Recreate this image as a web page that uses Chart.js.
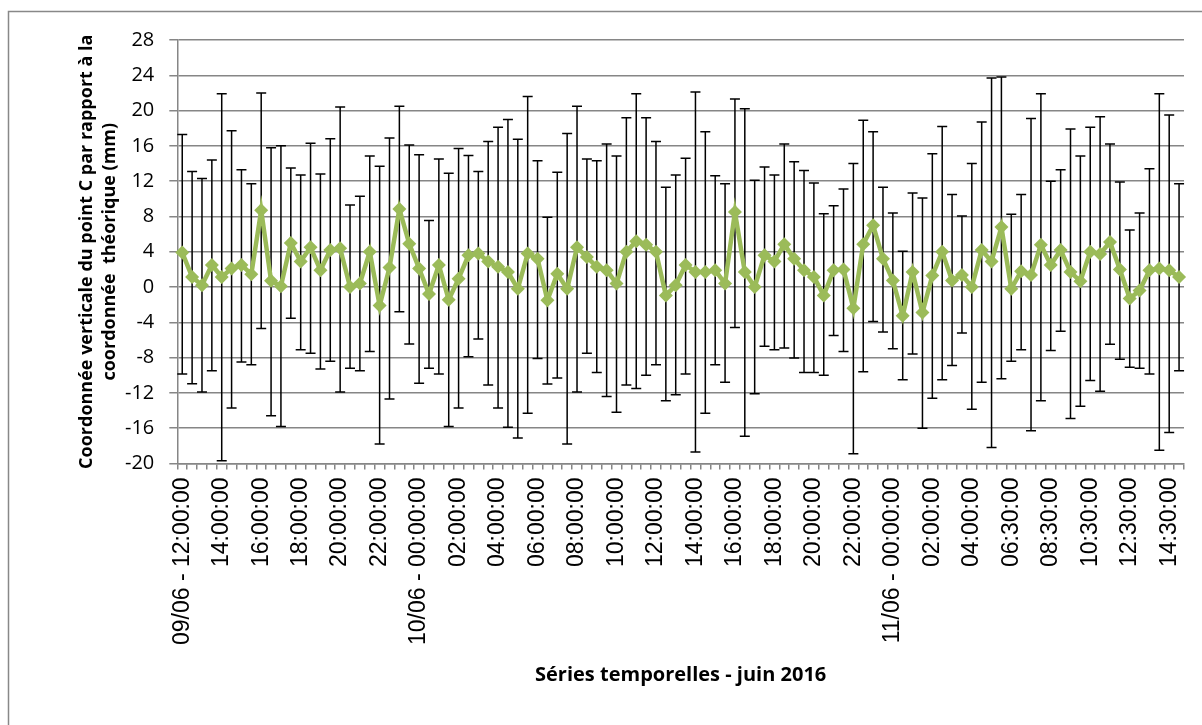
<!DOCTYPE html>
<html>
<head>
<meta charset="utf-8">
<script src="https://cdn.jsdelivr.net/npm/chart.js@4"></script>
<style>
  body { margin: 0; background: #fff; }
  canvas { display: block; }
</style>
</head>
<body>
<canvas id="chart" width="1202" height="725"></canvas>
<script>
// one tick label every 4 measurements (30 min steps)
const tickLabels = ['09/06 - 12:00:00', '14:00:00', '16:00:00', '18:00:00', '20:00:00', '22:00:00',
    '10/06 - 00:00:00', '02:00:00', '04:00:00', '06:00:00', '08:00:00', '10:00:00', '12:00:00',
    '14:00:00', '16:00:00', '18:00:00', '20:00:00', '22:00:00',
    '11/06 - 00:00:00', '02:00:00', '04:00:00', '06:30:00', '08:30:00', '10:30:00', '12:30:00', '14:30:00'];

const yTitle = ['Coordonnée verticale du point C par rapport à la', 'coordonnée  théorique (mm)'];

const values = [3.9, 1.15, 0.2, 2.5, 1.15, 2.1, 2.5, 1.45, 8.7, 0.7,
    0.1, 5.0, 2.9, 4.5, 1.9, 4.2, 4.4, 0.0, 0.4, 4.0,
    -2.1, 2.2, 8.85, 4.9, 2.1, -0.8, 2.5, -1.45, 0.95, 3.6,
    3.8, 2.9, 2.3, 1.7, -0.2, 3.8, 3.2, -1.5, 1.5, -0.2,
    4.5, 3.4, 2.3, 1.9, 0.4, 4.0, 5.2, 4.8, 4.0, -0.95,
    0.2, 2.5, 1.7, 1.7, 1.9, 0.4, 8.5, 1.7, 0.0, 3.6,
    2.9, 4.85, 3.2, 1.9, 1.15, -0.95, 1.9, 2.0, -2.4, 4.85,
    7.0, 3.2, 0.75, -3.25, 1.7, -2.9, 1.3, 4.0, 0.75, 1.35,
    0.0, 4.2, 2.9, 6.8, -0.2, 1.8, 1.35, 4.8, 2.5, 4.2,
    1.7, 0.65, 4.0, 3.75, 5.1, 2.0, -1.3, -0.4, 1.9, 2.1,
    1.9, 1.15];

const upper = [17.3, 13.1, 12.3, 14.4, 21.9, 17.7, 13.3, 11.7, 22.0, 15.8,
    16.0, 13.5, 12.7, 16.3, 12.8, 16.8, 20.4, 9.3, 10.3, 14.85,
    13.7, 16.9, 20.5, 16.1, 15.0, 7.55, 14.5, 12.9, 15.7, 14.9,
    13.1, 16.5, 18.1, 19.0, 16.75, 21.6, 14.3, 7.9, 13.0, 17.4,
    20.5, 14.5, 14.3, 16.2, 14.85, 19.2, 21.9, 19.2, 16.5, 11.3,
    12.7, 14.6, 22.1, 17.6, 12.6, 11.7, 21.3, 20.2, 12.1, 13.6,
    12.7, 16.2, 14.2, 13.2, 11.8, 8.3, 9.2, 11.1, 14.0, 18.9,
    17.6, 11.3, 8.4, 4.05, 10.65, 10.1, 15.1, 18.2, 10.5, 8.05,
    14.0, 18.7, 23.7, 23.8, 8.25, 10.5, 19.1, 21.9, 12.0, 13.3,
    17.9, 14.85, 18.1, 19.3, 16.2, 11.9, 6.45, 8.4, 13.4, 21.9,
    19.5, 11.7];

const lower = [-9.85, -10.95, -11.9, -9.5, -19.7, -13.7, -8.5, -8.8, -4.7, -14.6,
    -15.8, -3.55, -7.1, -7.5, -9.3, -8.4, -11.9, -9.2, -9.5, -7.3,
    -17.8, -12.7, -2.8, -6.45, -10.9, -9.2, -9.85, -15.8, -13.7, -7.9,
    -5.9, -11.1, -13.7, -15.9, -17.1, -14.3, -8.1, -11.0, -10.3, -17.8,
    -11.9, -7.5, -9.7, -12.4, -14.2, -11.1, -11.5, -10.0, -8.8, -12.9,
    -12.2, -9.85, -18.7, -14.3, -8.8, -10.8, -4.6, -16.9, -12.1, -6.7,
    -7.1, -6.9, -8.05, -9.7, -9.7, -10.0, -5.5, -7.3, -18.9, -9.6,
    -3.9, -5.1, -7.0, -10.5, -7.6, -16.0, -12.6, -10.5, -8.9, -5.2,
    -13.85, -10.8, -18.2, -10.4, -8.4, -7.1, -16.3, -12.9, -7.2, -5.0,
    -14.9, -13.5, -10.6, -11.8, -6.5, -8.2, -9.1, -9.2, -9.85, -18.5,
    -16.5, -9.5];

const categories = values.map((_, i) => (i % 4 === 0 ? tickLabels[i / 4] : ''));

const errorBars = {
    id: 'errorBars',
    beforeDatasetsDraw(chart) {
        const {ctx, scales: {x, y}} = chart;
        ctx.save();
        ctx.strokeStyle = '#000';
        ctx.lineWidth = 1.5;
        for (let i = 0; i < values.length; i++) {
            const px = x.getPixelForValue(i);
            const top = y.getPixelForValue(upper[i]);
            const bot = y.getPixelForValue(lower[i]);
            ctx.beginPath();
            ctx.moveTo(px, top);
            ctx.lineTo(px, bot);
            ctx.moveTo(px - 5, top);
            ctx.lineTo(px + 5, top);
            ctx.moveTo(px - 5, bot);
            ctx.lineTo(px + 5, bot);
            ctx.stroke();
        }
        ctx.restore();
    }
};

// frame + y axis title (two bold lines, rotated)
const frame = {
    id: 'frame',
    beforeDraw(chart) {
        const {ctx} = chart;
        ctx.save();
        ctx.strokeStyle = '#888';
        ctx.lineWidth = 1.5;
        ctx.beginPath();
        ctx.moveTo(8.5, 725);
        ctx.lineTo(8.5, 11.5);
        ctx.lineTo(1202, 11.5);
        ctx.stroke();
        ctx.restore();
    },
    afterDraw(chart) {
        const {ctx, chartArea} = chart;
        ctx.save();
        ctx.translate(chartArea.left - 90, (chartArea.top + chartArea.bottom) / 2);
        ctx.rotate(-Math.PI / 2);
        ctx.fillStyle = '#000';
        ctx.font = 'bold 18px "Open Sans"';
        ctx.textAlign = 'center';
        ctx.textBaseline = 'middle';
        ctx.fillText(yTitle[0], 0, 0);
        ctx.fillText(yTitle[1], 0, 23);
        ctx.restore();
    }
};

new Chart(document.getElementById('chart'), {
    type: 'line',
    data: {
        labels: categories,
        datasets: [{
            data: values,
            borderColor: '#9BBB59',
            backgroundColor: '#9BBB59',
            borderWidth: 4.5,
            pointStyle: 'rectRot',
            pointRadius: 7,
            pointBorderWidth: 0,
            pointBackgroundColor: '#9BBB59',
            tension: 0
        }]
    },
    options: {
        responsive: false,
        animation: false,
        layout: { padding: { left: 110, top: 40, right: 18, bottom: 38 } },
        plugins: {
            legend: { display: false },
            tooltip: { enabled: false }
        },
        scales: {
            x: {
                offset: true,
                afterFit: axis => { axis.paddingRight = 0; },
                grid: { offset: true, drawOnChartArea: false, drawTicks: true, tickLength: 6, color: '#868686', lineWidth: 1.5 },
                border: { color: '#868686', width: 1.5 },
                ticks: {
                    autoSkip: false,
                    minRotation: 90,
                    maxRotation: 90,
                    padding: 8,
                    color: '#000',
                    font: { family: 'Liberation Sans', size: 23 }
                },
                title: {
                    display: true,
                    text: 'Séries temporelles - juin 2016',
                    color: '#000',
                    font: { family: 'Open Sans', size: 20, weight: 'bold' },
                    padding: { top: 10, bottom: 0 }
                }
            },
            y: {
                min: -20,
                max: 28,
                ticks: {
                    stepSize: 4,
                    padding: 15,
                    color: '#000',
                    font: { family: 'Open Sans', size: 20 }
                },
                grid: { color: '#868686', lineWidth: 1.5, tickLength: 8 },
                border: { color: '#868686', width: 1.5 }
            }
        }
    },
    plugins: [errorBars, frame]
});
</script>
</body>
</html>
